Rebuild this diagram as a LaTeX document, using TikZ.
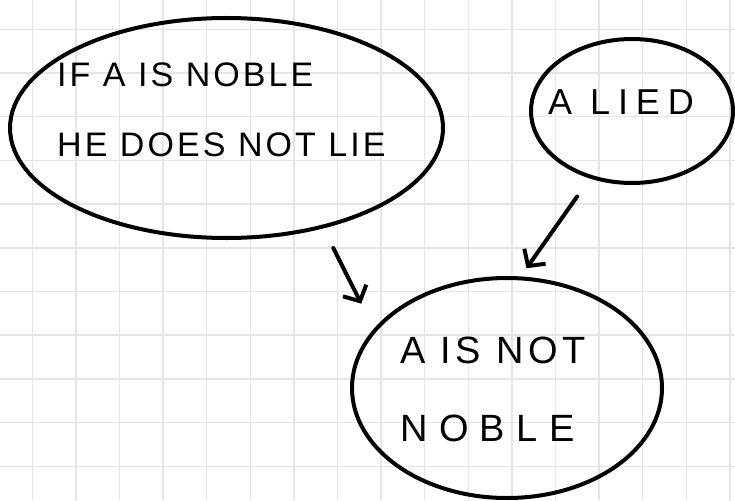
\documentclass[tikz,border=0pt]{standalone}
\usepackage{fontspec}
\setmainfont{Liberation Sans}
\newfontfamily\handfont{Liberation Sans}[LetterSpace=9]
\usetikzlibrary{positioning,shapes,arrows.meta}

\begin{document}
\begin{tikzpicture}[
    x=1pt, y=-1pt,
    bubble/.style={ellipse, draw, line width=4pt, inner sep=0pt},
    hand/.style={font=\handfont\fontsize{34}{70}\selectfont, align=left, anchor=west, inner sep=0pt},
    link/.style={-{Straight Barb[length=12pt,width=26pt]}, line width=4pt, line cap=round}
]
\useasboundingbox (0,0) rectangle (735,500);
% grid paper
\foreach \i in {0,...,16}
    \draw[gray!20, line width=1.5pt] (32.3+43.6*\i,0) -- (32.3+43.6*\i,500);
\foreach \j in {0,...,10}
    \draw[gray!20, line width=1.5pt] (0,29.3+43.7*\j) -- (735,29.3+43.7*\j);

% bubbles
\node[bubble, minimum width=433pt, minimum height=220pt] (noble) at (226.5,128) {};
\node[bubble, minimum width=202pt, minimum height=144pt] (lied) at (632,111) {};
\node[bubble, minimum width=310pt, minimum height=220pt] (notnoble) at (507,388) {};

% texts
\node[hand] (nobletext) at (57,110) {IF A IS NOBLE\\HE DOES NOT LIE};
\node[hand, font=\fontsize{36}{70}\selectfont\addfontfeature{LetterSpace=22}] (liedtext) at (548,102) {A LIED};
\node[hand, font=\fontsize{38}{78}\selectfont] (notnobletext) at (400,389)
    {\addfontfeature{LetterSpace=12}A IS NOT\\\addfontfeature{LetterSpace=30}NOBLE};

% arrows
\draw[link, shorten <=22pt, shorten >=28pt] (noble.-46.5) -- (notnoble.156.2);
\draw[link, shorten <=22pt, shorten >=10pt] (lied.-122.4) -- (notnoble.83.7);
\end{tikzpicture}
\end{document}
